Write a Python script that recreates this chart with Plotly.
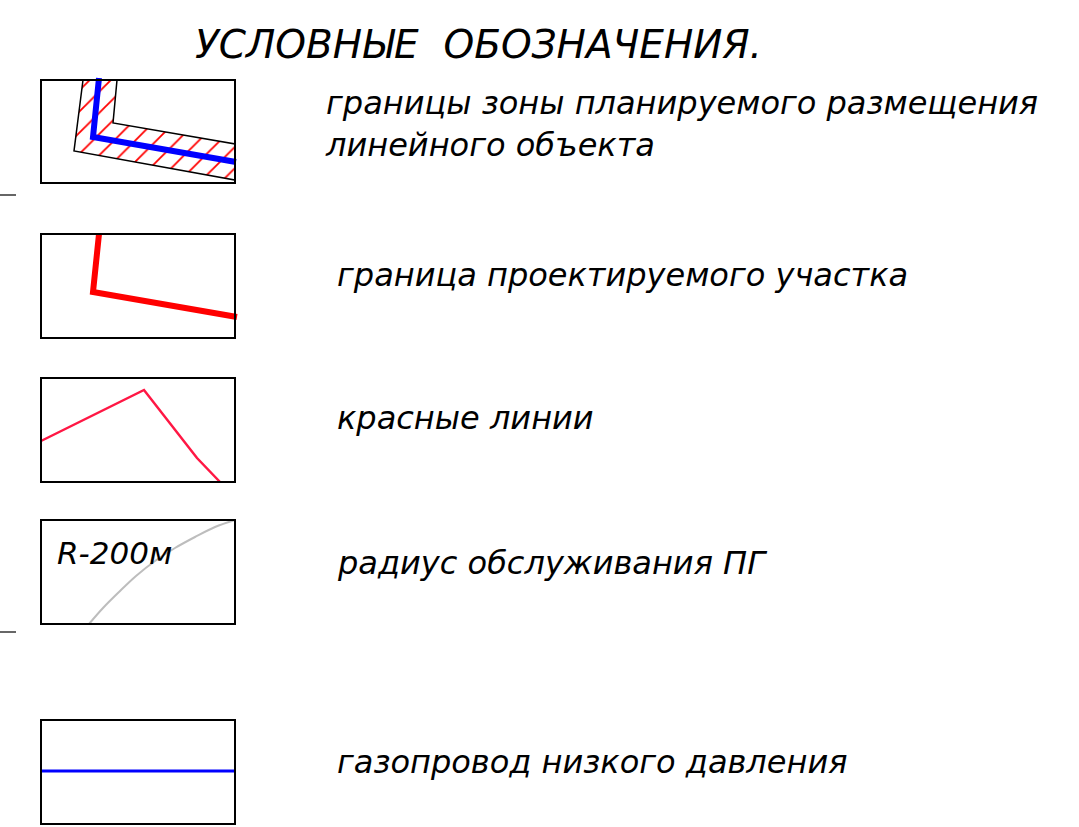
import plotly.graph_objects as go

W, H = 1079, 827

title_text = "УСЛОВНЫЕ  ОБОЗНАЧЕНИЯ."
labels = [
    "границы зоны планируемого размещения<br>линейного объекта",
    "граница проектируемого участка",
    "красные линии",
    "радиус обслуживания ПГ",
    "газопровод низкого давления",
]
label_x = [323, 335, 335, 335, 335]
label_y = [124, 275, 418, 563, 762]

# symbol boxes: (x0, y0, x1, y1) in page pixels
boxes = [(41, 80, 235, 183), (41, 234, 235, 338), (41, 378, 235, 482),
         (41, 520, 235, 624), (41, 720, 235, 824)]

# symbol 1: hatched zone and blue axis
zone_x = [83, 117, 113, 235, 235, 74, 83]
zone_y = [80, 80, 123, 144, 180, 151, 80]
axis1_x = [99, 93, 236]
axis1_y = [78, 137, 162]
# symbol 2: project boundary
bound_x = [99, 93, 237]
bound_y = [234, 292, 317]
# symbol 3: red lines
redl_x = [41, 144, 197, 220]
redl_y = [441, 390, 458, 482]
# symbol 4: service radius arc
arc_x = [235, 215, 195, 175, 155, 136, 119, 103, 89]
arc_y = [520, 527, 537, 548, 561, 576, 592, 608, 624]
radius_label = "R-200м"
# symbol 5: gas pipe
gas_x = [41, 235]
gas_y = [771, 771]
# side ticks
tick_y = [195, 632]

FONT = "DejaVu Sans"

fig = go.Figure()

fig.add_trace(go.Scatter(
    x=zone_x, y=zone_y, mode="lines", fill="toself", fillcolor="white",
    fillpattern=dict(shape="/", fgcolor="#ff0000", fgopacity=1, bgcolor="white",
                     size=15, solidity=0.12),
    line=dict(color="black", width=1.5), hoverinfo="skip", showlegend=False))
fig.add_trace(go.Scatter(x=axis1_x, y=axis1_y, mode="lines",
                         line=dict(color="#0000ff", width=6), showlegend=False, hoverinfo="skip"))
fig.add_trace(go.Scatter(x=bound_x, y=bound_y, mode="lines",
                         line=dict(color="#ff0000", width=6), showlegend=False, hoverinfo="skip"))
fig.add_trace(go.Scatter(x=redl_x, y=redl_y, mode="lines",
                         line=dict(color="#ff1744", width=2.5), showlegend=False, hoverinfo="skip"))
fig.add_trace(go.Scatter(x=arc_x, y=arc_y, mode="lines", line_shape="spline",
                         line=dict(color="#bdbdbd", width=2), showlegend=False, hoverinfo="skip"))
fig.add_trace(go.Scatter(x=gas_x, y=gas_y, mode="lines",
                         line=dict(color="#0000ff", width=3), showlegend=False, hoverinfo="skip"))

shapes = []
for (x0, y0, x1, y1) in boxes:
    shapes.append(dict(type="rect", xref="x", yref="y", x0=x0, y0=y0, x1=x1, y1=y1,
                       line=dict(color="black", width=2), layer="above"))
for ty in tick_y:
    shapes.append(dict(type="line", xref="x", yref="y", x0=0, x1=16, y0=ty, y1=ty,
                       line=dict(color="black", width=1.2)))

annotations = [dict(x=193, y=44, xref="x", yref="y", text=title_text, showarrow=False,
                    xanchor="left", yanchor="middle",
                    font=dict(family=FONT, size=39, color="black", style="italic"))]
for t, lx, ly in zip(labels, label_x, label_y):
    annotations.append(dict(x=lx, y=ly, xref="x", yref="y", text=t, showarrow=False,
                            xanchor="left", yanchor="middle", align="left",
                            font=dict(family=FONT, size=32, color="black", style="italic")))
annotations.append(dict(x=55, y=553, xref="x", yref="y", text=radius_label, showarrow=False,
                        xanchor="left", yanchor="middle",
                        font=dict(family=FONT, size=31, color="black", style="italic")))

fig.update_layout(
    width=W, height=H, margin=dict(l=0, r=0, t=0, b=0),
    paper_bgcolor="white", plot_bgcolor="white",
    xaxis=dict(range=[0, W], visible=False, fixedrange=True),
    yaxis=dict(range=[H, 0], visible=False, fixedrange=True),
    shapes=shapes, annotations=annotations, showlegend=False,
)

fig.write_html("out.html", config={"displayModeBar": False},
               post_script="document.body.style.margin='0';document.body.style.overflow='hidden';")
